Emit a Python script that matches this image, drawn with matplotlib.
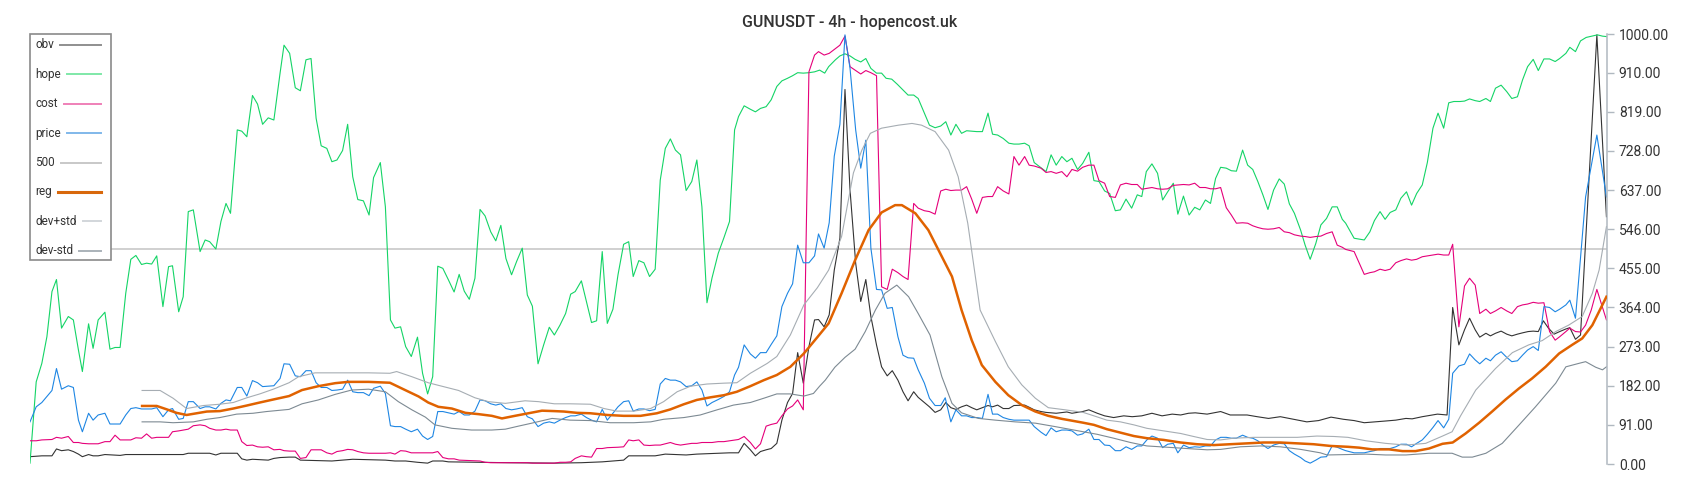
import matplotlib
matplotlib.use("Agg")
import matplotlib.pyplot as plt
from matplotlib.patches import Rectangle
from matplotlib.lines import Line2D

plt.rcParams['font.family'] = ['Roboto', 'DejaVu Sans']

# ---- data (bar index -> value) ----
hope_x = [0, 1.1, 2.1, 3, 3.9, 4.7, 5.6, 6.8, 7.7, 8.6, 9.3, 10.4, 11.2, 12.1, 13.3, 14.2, 15.1, 16, 17, 17.9,
          18.8, 19.8, 20.7, 21.6, 22.5, 23.6, 24.6, 25.3, 26.4, 27.2, 28.1, 29, 30.2, 31.1, 31.9, 33, 33.9, 34.8,
          35.6, 36.8, 37.6, 38.5, 39.5, 40.4, 41.3, 42.3, 43.3, 44.4, 45.1,
          46.1, 47.1, 48, 49, 49.9, 50.8, 51.7, 52.7, 53.6, 54.5, 55.5, 56.4, 57.3, 58.2, 59.2, 60.2, 61, 62.2,
          63.1, 64, 64.8, 65.8, 66.7, 67.7, 68.8, 69.7, 70.6, 71.5, 72.4, 73.3, 74.3, 75.3, 76.2, 77.1, 78, 79,
          79.9, 80.8, 81.8, 82.7, 83.6, 84.5, 85.5, 86.4, 87.4, 88.3, 89.2, 90.2, 91.2, 92.2,
          93.1, 94.1, 95.1, 96, 96.8, 97.9, 98.8, 99.7, 100.6, 101.6, 102.5, 103.5, 104.4, 105.4, 106.3, 107.1,
          108.1, 109, 110, 111, 111.9, 112.8, 113.7, 114.6, 115.5, 116.5, 117.5, 118.4, 119.3, 120.2, 121.1,
          122.2, 123.2, 124.2, 125.1, 125.8, 126.8, 127.9, 128.8, 129.7, 130.7, 131.6, 132.6, 133.5, 134.5,
          135.4, 136.3, 137.3, 138.3, 139.3,
          140.2, 141.1, 141.8, 143, 143.8, 144.7, 145.6, 146.5, 147.5, 148.4, 149.3, 150.3, 151.2, 152, 153, 154,
          154.9, 155.9, 156.9, 157.7, 158.8, 159.7, 160.7, 161.7, 162.6, 163.5, 164.4, 165.4, 166.3, 167.2, 168.1,
          169.1, 170.1, 170.9, 171.8, 172.8, 173.8, 174.7, 175.6, 176.6, 177.4, 178.3, 179.5, 180.4, 181.3, 182.2,
          183.2, 184.1, 185, 186,
          186.9, 188, 188.9, 189.8, 190.8, 191.7, 192.7, 193.6, 194.6, 195.6, 196.6, 197.4, 198.2, 199.2, 200.2,
          201.1, 202, 203, 203.8, 204.8, 205.8, 206.8, 207.7, 208.7, 209.6, 210.5, 211.4, 212.4, 213.3, 214.2,
          215.3, 216.2, 217.1, 218, 218.9, 219.8, 220.8, 221.8, 222.7, 223.6, 224.5, 225.6, 226.4, 227.3, 228.3,
          229.2, 230.2, 231.2, 232.1, 233,
          233.6, 235.1, 236.9, 237.9, 238.7, 239.7, 240.6, 241.5, 242.5, 243.4, 244.4, 245.3, 246.2, 247.2, 248.1,
          249.1, 250, 251, 251.9, 252.8, 253.9, 254.7, 255.6, 256.6, 257.4, 258.5, 259.3, 260.2, 261.2, 262.2,
          263.1, 264.1, 265, 265.9, 266.9, 267.8, 268.8, 269.8, 270.8, 271.6, 272.7, 273.4, 274.4, 275.3, 276.3,
          277.3, 278.3, 279.2, 279.9]
hope_y = [2, 191, 234, 296, 401, 429, 316, 343, 335, 265, 215, 326, 269, 335, 353, 267, 271, 271, 397, 476,
          485, 464, 467, 465, 484, 366, 459, 461, 354, 389, 587, 591, 494, 521, 517, 500, 564, 606,
          583, 777, 774, 761, 857, 837, 790, 805, 800, 909, 974,
          955, 875, 868, 940, 943, 804, 740, 734, 703, 707, 729, 790, 668, 615, 612, 579, 666, 701,
          598, 335, 316, 319, 273, 250, 295, 211, 163, 203, 460, 455, 428, 400, 441, 402, 383, 432,
          592, 577, 540, 519, 555, 478, 440, 471, 502, 393, 367, 233, 277, 318,
          300, 323, 350, 395, 401, 426, 378, 329, 333, 494, 327, 360, 440, 511, 517, 436,
          473, 468, 436, 453, 660, 734, 756, 730, 719, 636, 657, 707, 598, 375, 433,
          490, 526, 564, 777, 808, 833, 825, 819, 827, 831, 847, 878, 891, 897,
          903, 910, 909, 910, 912,
          916, 909, 924, 940, 949, 954, 949, 941, 935, 943, 920, 909, 909, 897, 895, 883,
          871, 858, 858, 850, 816, 788, 782, 786, 796, 765, 790, 769, 775, 774, 773,
          773, 816, 767, 765, 757, 746, 744, 744, 746, 740, 701, 689, 680, 719, 695,
          715, 703, 711, 685,
          699, 725, 659, 657, 635, 629, 589, 591, 616, 595, 626, 622, 680, 698, 676,
          614, 633, 653, 581, 623, 579, 597, 591, 614, 606, 664, 690, 688, 682, 681,
          730, 695, 685, 657, 626, 592, 637, 663, 651, 605, 583, 544, 509, 476, 513,
          556, 571, 598, 598, 569,
          560, 525, 521, 540, 566, 587, 569, 585, 591, 618, 633, 602, 629, 649, 701,
          781, 816, 781, 840, 843, 843, 844, 849, 845, 843, 850, 843, 874, 881, 866,
          850, 854, 893, 924, 941, 915, 942, 942, 936, 943, 955, 969, 959, 984, 992,
          995, 998, 995, 994]

price_x = [0, 1.1, 2.1, 3, 3.9, 4.7, 5.6, 6.8, 7.7, 8.6, 9.3, 10.4, 11.2, 12.1, 13.3, 14.2, 16, 17, 17.9, 18.8,
           19.8, 21.6, 22.5, 23.6, 24.6, 25.3, 26.4, 27.2, 28.1, 29, 30.2, 31.1, 31.9, 33, 33.9, 34.8, 35.6, 36.8,
           37.6, 38.5, 39.5, 40.4, 41.3, 42.3, 43.3, 44.4, 45.1,
           46.1, 47.1, 48, 49, 49.9, 50.8, 51.7, 52.7, 53.6, 54.5, 55.5, 56.4, 57.3, 58.2, 59.2, 60.2, 61, 62.2,
           63.1, 64, 64.8, 65.8, 66.7, 67.7, 68.8, 69.7, 70.6, 71.5, 72.4, 73.3, 74.3, 75.3, 76.2, 77.1, 78, 79,
           79.9, 80.8, 81.8, 82.7, 83.6, 84.5, 85.5, 86.4, 87.4, 88.3, 89.2, 90.2, 91.2, 92.2,
           93.1, 94.1, 95.1, 96, 96.8, 97.9, 98.8, 99.7, 100.6, 101.6, 102.5, 103.5, 104.4, 105.4, 106.3, 107.1,
           108.1, 109, 110, 111, 111.9, 112.8, 113.7, 114.6, 115.5, 116.5, 117.5, 118.4, 119.3, 120.2, 121.1,
           122.2, 123.2, 124.2, 125.1, 125.8, 126.8, 127.9, 128.8, 129.7, 130.7, 131.6, 132.6, 133.5, 134.5,
           135.4, 136.3, 137.3, 138.3, 139.3,
           140, 141, 141.9, 142.8, 143.8, 144.7, 145.6, 146.6, 147.5, 148.4, 149.3, 150.3, 151.2, 152.2, 153.1,
           154.1, 155, 155.9, 156.9, 157.7, 158.8, 159.7, 160.7, 161.7, 162.5, 163.5, 164.4, 165.4, 166.3, 167.2,
           168.1, 169.1, 170.1, 170.9, 171.8, 172.8, 173.8, 174.7, 175.6, 176.6, 177.4, 178.3, 179.5, 180.4,
           181.3, 182.2, 183.2, 184.1, 185, 186,
           186.9, 188, 188.9, 189.8, 190.8, 191.7, 192.7, 193.6, 194.6, 195.6, 196.6, 197.4, 198.3, 199.2, 200.2,
           201.1, 202, 203, 203.8, 204.8, 205.8, 206.8, 207.7, 208.7, 209.6, 210.5, 211.4, 212.4, 213.3, 214.2,
           215.3, 216.2, 217.1, 218, 218.9, 219.8, 220.8, 221.8, 222.7, 223.6, 224.5, 225.6, 226.4, 227.3, 228.3,
           229.2, 230.2, 231.2, 232.1, 233,
           233.6, 235.1, 236.9, 237.9, 238.7, 239.7, 240.6, 241.5, 242.5, 243.4, 244.4, 245.3, 246.2, 247.2, 248.1,
           249.1, 250, 251, 251.9, 252.6, 253.7, 254.7, 255.6, 256.6, 257.4, 258.5, 259.3, 260.2, 261.2, 262.2,
           263.1, 264.1, 265, 265.9, 266.9, 267.8, 268.8, 269.8, 270.8, 271.6, 272.7, 273.4, 274.4, 276.2, 278.2,
           279.9]
price_y = [98, 133, 143, 157, 171, 222, 174, 182, 178, 102, 75, 118, 102, 114, 118, 93, 93, 114, 129, 131,
           128, 128, 131, 110, 126, 129, 104, 106, 145, 145, 129, 133, 133, 128, 141, 149, 147, 178,
           178, 158, 194, 189, 180, 181, 182, 199, 233,
           232, 205, 203, 217, 217, 189, 178, 178, 171, 172, 174, 195, 168, 166, 166, 159, 176, 181,
           164, 89, 87, 87, 81, 75, 81, 65, 57, 64, 122, 122, 119, 116, 122, 114, 114, 123,
           149, 147, 140, 137, 140, 129, 126, 128, 131, 110, 105, 87, 95, 98,
           95, 102, 108, 112, 112, 116, 108, 102, 98, 127, 102, 118, 133, 145, 147, 123,
           128, 128, 124, 127, 186, 199, 195, 195, 191, 180, 182, 191, 172, 135, 143,
           150, 157, 168, 207, 225, 277, 256, 246, 259, 259, 278, 298, 366, 397,
           419, 509, 468, 468, 484,
           535, 502, 561, 716, 790, 998, 920, 777, 688, 753, 502, 406, 405, 362, 364,
           296, 253, 247, 246, 219, 188, 153, 136, 136, 154, 98, 126, 112, 112, 108,
           108, 106, 162, 116, 116, 108, 104, 102, 102, 102, 102, 87, 74, 66,
           84, 75, 79, 79, 77, 67,
           70, 81, 57, 57, 44, 43, 31, 31, 40, 34, 42, 42, 56, 65, 60,
           38, 46, 48, 26, 44, 38, 40, 39, 42, 42, 56, 62, 62, 60, 60,
           67, 62, 60, 54, 44, 36, 44, 48, 47, 31, 23, 15, 7, 2, 9,
           16, 17, 42, 39, 34,
           31, 26, 26, 29, 31, 36, 36, 36, 40, 46, 46, 40, 48, 56, 69,
           85, 101, 84, 104, 211, 228, 232, 256, 242, 233, 246, 240, 253, 261, 248,
           238, 240, 253, 265, 273, 264, 366, 364, 354, 360, 370, 381, 339, 621, 765,
           621]

cost_x = [0, 1.1, 2.1, 3.9, 4.7, 5.6, 6.8, 7.7, 8.6, 9.3, 10.4, 12.1, 13.3, 14.2, 15.1, 16, 17.9, 18.8, 19.8,
          20.7, 21.6, 22.5, 24.6, 25.3, 26.4, 27.2, 28.1, 29, 30.2, 31.1, 31.9, 33, 33.9, 34.8, 35.6, 36.8, 37.6,
          38.5, 39.5, 40.4, 41.3, 42.3, 43.3, 44.4, 45.1,
          46.1, 47.1, 48, 49, 49.9, 51.7, 52.7, 53.6, 54.5, 55.5, 56.4, 57.3, 58.2, 59.2, 60.2, 63.1, 64, 64.8,
          65.8, 66.7, 67.7, 71.5, 72.4, 73.3, 74.3, 75.3, 76.2, 78, 79.9, 80.8, 81.8, 88.3, 89.2, 93.1,
          94.1, 95.1, 96, 96.8, 97.9, 98.8, 99.7, 100.6, 101.6, 102.5, 104.4, 105.4, 106.3, 107.1, 108.1, 109,
          110, 111, 111.9, 112.8, 113.7, 114.6, 115.5, 116.5, 117.5, 118.4, 119.3, 121.1, 122.2, 123.2, 124.2,
          125.1, 125.8, 126.8, 127.9, 128.8, 129.7, 130.7, 131.6, 132.6, 133.5, 134.5, 135.4, 136.3, 137.3,
          138.3, 139.3,
          140, 141, 141.9, 142.8, 143.8, 144.7, 145.6, 146.6, 147.5, 148.4, 149.3, 150.3, 151.2, 152.2, 153.1,
          154.1, 155, 155.9, 156.9, 157.7, 158.8, 159.7, 160.7, 161.7, 162.6, 163.5, 164.4, 165.4, 166.3, 167.2,
          168.1, 169.1, 170.1, 170.9, 171.8, 172.8, 173.8, 174.7, 175.6, 176.6, 177.4, 178.3, 179.5, 180.4,
          181.3, 182.2, 183.2, 184.1, 185, 186,
          186.9, 188, 188.9, 189.8, 190.8, 191.7, 192.7, 193.6, 194.6, 195.6, 196.6, 197.4, 198.3, 199.2, 200.2,
          201.1, 202, 203, 203.8, 204.8, 205.8, 206.8, 207.7, 208.7, 209.6, 210.5, 211.4, 212.4, 213.3, 214.2,
          215.3, 216.2, 217.1, 218, 218.9, 219.8, 220.8, 221.8, 222.7, 223.6, 224.5, 225.6, 226.4, 227.3, 228.3,
          229.2, 230.2, 231.2, 232.1, 233,
          233.6, 235.1, 236.9, 237.9, 238.7, 239.7, 240.6, 241.5, 242.5, 243.4, 244.4, 245.3, 246.2, 247.2, 248.1,
          249.1, 250, 251, 251.9, 252.6, 253.7, 254.7, 255.6, 256.6, 257.4, 258.5, 259.3, 260.2, 261.2, 262.2,
          263.1, 264.1, 265, 265.9, 266.9, 267.8, 268.8, 269.8, 270.8, 271.6, 272.7, 273.4, 274.4, 275.3, 276.2,
          277.2, 278.2, 279.9]
cost_y = [54, 54, 56, 57, 62, 60, 64, 50, 50, 48, 47, 47, 52, 52, 67, 56, 56, 61, 60,
          70, 60, 62, 62, 75, 77, 79, 81, 89, 91, 89, 83, 79, 79, 81, 79, 79, 52,
          43, 44, 40, 39, 40, 33, 34, 31,
          30, 30, 13, 15, 33, 33, 26, 23, 29, 31, 34, 33, 29, 26, 25, 25, 26, 23,
          31, 30, 26, 26, 29, 15, 12, 12, 9, 8, 7, 4, 3, 3, 2, 2,
          4, 4, 5, 13, 19, 17, 16, 36, 36, 38, 39, 40, 56, 54, 56, 44,
          43, 44, 44, 47, 50, 46, 44, 46, 48, 48, 50, 50, 52, 52, 54,
          56, 57, 64, 50, 35, 47, 88, 92, 95, 112, 128, 135, 149, 126,
          912, 951,
          959, 951, 955, 964, 974, 995, 924, 915, 907, 915, 910, 903, 412, 406, 453,
          445, 436, 429, 606, 595, 589, 587, 581, 635, 639, 636, 637, 637, 645, 616,
          583, 620, 622, 622, 645, 635, 628, 715, 695, 715, 695, 693, 688, 678,
          680, 676, 680, 668, 685, 681,
          690, 695, 695, 659, 653, 622, 620, 649, 653, 650, 650, 639, 641, 643, 640,
          639, 640, 648, 649, 650, 649, 653, 643, 643, 640, 640, 643, 596, 579, 560,
          561, 560, 554, 550, 547, 546, 547, 550, 540, 538, 533, 530, 529, 527, 529,
          530, 536, 540, 509, 504,
          499, 494, 441, 445, 447, 453, 450, 453, 468, 473, 477, 474, 476, 482, 484,
          486, 488, 486, 486, 511, 319, 414, 432, 416, 350, 360, 350, 356, 364, 356,
          350, 366, 370, 372, 376, 374, 375, 308, 288, 296, 308, 316, 308, 307, 323,
          358, 406, 335]

obv_x = [0, 2.1, 3.9, 4.7, 5.6, 6.8, 7.7, 8.6, 9.3, 10.4, 11.2, 12.1, 13.3, 16, 17, 27.2, 28.1, 31.9, 33,
         33.9, 36.8, 37.6, 38.5, 39.5, 42.3, 43.3, 44.4, 46,
         47.1, 48, 53.6, 57.3, 63.1, 64.8, 66.7, 68.8, 70.6, 71.5, 73.3, 74.3, 79.9, 85, 93,
         97.9, 101.6, 104.4, 105.4, 106.3, 111, 112.8, 116.5, 118.4, 122.2, 124.2, 125.8, 126.8, 127.9, 128.8,
         129.7, 130.7, 131.6, 132.6, 133.5, 134.5, 135.4, 136.3, 137.3, 138.3, 139.3,
         140, 141, 141.9, 142.8, 143.8, 144.7, 145.6, 146.6, 147.5, 148.4, 149.3, 150.3, 151.2, 152.2, 153.1,
         154.1, 155, 155.9, 156.9, 157.7, 158.8, 159.7, 160.7, 161.7, 162.6, 163.5, 164.4, 165.4, 166.3, 167.2,
         168.1, 169.1, 170.1, 170.9, 171.8, 172.8, 173.8, 174.7, 176.6, 177.4, 178.3, 179.5, 180.4, 182.2,
         184.1, 185, 186.9,
         188, 189.5, 190.8, 192.4, 194.2, 195.7, 197.4, 199.2, 201, 202.8, 204.3, 205.7, 206.9, 209, 211.4,
         213.1, 216.1, 217.9, 219.9, 222, 224.4, 226.7, 228.8, 231, 233.2,
         235.1, 236.9, 238.9, 240.7, 242.5, 244.3, 245.4, 247.2, 249, 249.9, 251.6, 252.6, 253.7, 254.7, 255.6,
         256.6, 257.4, 258.5, 259.3, 260.2, 261.2, 262.2, 263.1, 264.1, 265, 266, 266.9, 267.8, 268.7, 269.6,
         270.6, 271.6, 272.7, 273.4, 274.4, 275.3, 278.2, 279.9]
obv_y = [17, 19, 19, 35, 31, 33, 29, 23, 17, 22, 19, 19, 22, 20, 22, 22, 25, 25, 21,
         25, 25, 12, 9, 11, 9, 13, 15, 16,
         16, 9, 7, 11, 9, 7, 7, 4, 2, 7, 7, 5, 4, 3, 2,
         3, 5, 8, 9, 19, 19, 23, 21, 23, 25, 26, 26, 48, 33, 19,
         29, 33, 36, 48, 102, 143, 164, 259, 188, 273, 335,
         336, 319, 347, 451, 525, 871, 637, 467, 378, 429, 343, 277, 226, 205, 217,
         195, 168, 147, 168, 155, 143, 133, 120, 126, 143, 131, 127, 133, 137, 131,
         126, 131, 136, 133, 137, 129, 129, 136, 137, 132, 126, 122, 120, 118,
         121, 118, 122,
         126, 118, 112, 108, 112, 110, 112, 118, 112, 116, 114, 118, 119, 116, 122,
         114, 114, 110, 106, 110, 104, 98, 101, 109, 104,
         101, 96, 98, 100, 102, 106, 105, 110, 114, 116, 114, 364, 277, 312, 339,
         312, 295, 304, 298, 304, 309, 302, 298, 302, 305, 308, 309, 308, 333, 316,
         302, 308, 314, 317, 290, 300, 998, 575]

reg_x = [19.9, 22.5, 24.3, 26, 27.8, 29.6, 31.4, 33.7, 36.1, 38.5, 40.8, 43.2, 46, 48.3, 51.2, 54.2, 56.5, 60.1,
         63.9, 66.6, 69, 70.7, 72.5, 74.9, 77.3, 79.6, 82, 83.8, 86.1, 88.5, 90.9, 93.1, 94.8, 97.1, 99.5,
         102.5, 105.4, 108.4, 111.3, 113.7, 116.1, 118.4, 120.8, 123.2, 125.5, 127.9, 130.3, 132.6, 135, 137.4,
         139.8, 141.8, 144.1, 146.5, 148.9, 151.2, 153.6, 154.8, 157.2, 159.5, 161.6, 163.7, 165.4, 167.2, 169,
         171.4, 173.7, 176.1, 178.5, 180.8, 183.2, 187, 188.9, 191.2, 193.6, 196, 198.3, 201.3, 204.3, 207.2,
         210.2, 213.1, 216.1, 219, 222, 225, 227.9, 230.9, 234, 236, 238.3, 241.3, 243.7, 246, 248.4, 250.8,
         252.6, 254.9, 257.3, 259.6, 262, 264.4, 266.7, 269.1, 271.5, 273.8, 275.6, 277.4, 279.9]
reg_y = [135, 135, 127, 119, 114, 118, 122, 123, 129, 136, 143, 150, 158, 172, 181, 188, 191, 191,
         189, 172, 157, 143, 133, 129, 119, 116, 112, 106, 112, 118, 124, 123, 122, 119, 118,
         114, 112, 112, 118, 127, 139, 149, 155, 160, 168, 181, 195, 207, 226, 257,
         295, 327, 397, 474, 544, 585, 602, 602, 583, 544, 490, 436, 358, 288, 230,
         191, 160, 137, 122, 112, 105, 96, 91, 81, 73, 65, 60, 56, 50, 46,
         44, 46, 48, 50, 50, 48, 46, 42, 40, 38, 34, 34, 30, 30, 36, 47,
         50, 71, 96, 122, 150, 176, 199, 226, 257, 277, 292, 323, 389]

dev_hi_x = [19.9, 23.1, 25.4, 27.8, 30.8, 33.7, 36.1, 38.5, 40.8, 43.2, 46, 47.7, 50.6, 54.2, 60.1, 63.9, 65.1,
            67.8, 70.7, 73.1, 76.1, 79, 81.4, 84.4, 87.9, 90.3, 93.1, 95.9, 99.5, 101.9, 104.2, 107.2, 110.2,
            112.5, 114.9, 117.3, 120.2, 123.2, 125.5, 127.9, 130.9, 132.6, 135, 137.4, 139.8, 141.8, 144.1,
            146.2, 147.7, 149.2, 151.2, 154.2, 156.6, 158.3, 160.7, 163.1, 164.8, 166.5, 168.7, 171.4, 173.7,
            176.1, 178.5, 180.8, 183.8, 187, 188.9, 191.2, 193.6, 196, 198.3, 201.3, 204.3, 206.6, 209, 211.4,
            213.7, 217.3, 225, 228.5, 231.5, 234, 237.2, 240.7, 244.3, 247.8, 250.8, 252.5, 254, 256.7, 260.2,
            263.2, 266.1, 268.5, 270.9, 273.2, 275.6, 277.4, 278.6, 279.9]
dev_hi_y = [171, 171, 153, 129, 136, 139, 143, 154, 163, 174, 189, 203, 212, 212, 212, 211, 215,
            203, 189, 181, 171, 154, 145, 141, 147, 145, 140, 140, 139, 129, 123, 123, 129,
            145, 168, 181, 186, 188, 189, 211, 234, 250, 300, 370, 410, 451, 529,
            677, 730, 769, 781, 788, 792, 788, 773, 730, 668, 560, 358, 285, 226,
            184, 153, 131, 126, 120, 112, 102, 98, 91, 83, 77, 71, 64, 57, 56,
            60, 62, 62, 65, 64, 62, 54, 48, 44, 48, 65, 75, 112, 172, 222,
            259, 277, 287, 308, 323, 343, 397, 451, 552]

dev_lo_x = [19.9, 23.1, 25.4, 29, 31.4, 33.7, 36.7, 39.6, 42, 46, 48.3, 51.2, 54.2, 57.1, 60.1, 63.1, 65.4, 67.8,
            70.2, 71.9, 74.9, 78.4, 82, 84.4, 86.7, 89.1, 92.7, 95.9, 99.5, 103, 107.2, 110.2, 112.5, 116.1, 119,
            122, 124.9, 127.9, 130.3, 132.6, 135, 137.4, 139.1, 140.2, 141.2, 142.9, 144.7, 146.5, 148.3, 150.1,
            151.8, 153.9, 156, 157.7, 159.8, 161.9, 163.7, 165.4, 168.4, 171.4, 174.9, 178.5, 182, 187, 189.5,
            192.4, 195.4, 198.3, 201.9, 205.4, 209, 211.4, 214.9, 218.5, 222, 225.6, 229.1, 230.3, 234, 237.2,
            240.7, 244.3, 248.4, 252.5, 254.3, 256.1, 258.5, 261.4, 264.4, 267.3, 270.9, 272.7, 275, 276.2, 278,
            279.2, 279.9]
dev_lo_y = [98, 98, 96, 98, 104, 108, 116, 118, 122, 127, 140, 149, 162, 172, 174, 168, 145, 126,
            109, 91, 83, 79, 79, 81, 88, 95, 106, 102, 101, 96, 96, 98, 104, 108, 114,
            126, 137, 143, 153, 163, 163, 158, 164, 181, 195, 225, 248, 267, 308, 358,
            397, 416, 389, 350, 300, 203, 141, 119, 106, 102, 98, 95, 87, 75, 69,
            60, 50, 42, 39, 36, 33, 34, 40, 42, 40, 34, 26, 21, 22, 23,
            21, 21, 25, 25, 16, 16, 25, 48, 91, 133, 188, 226, 234, 238, 225,
            219, 226]

level_500 = 500
y_ticks = [0, 91, 182, 273, 364, 455, 546, 637, 728, 819, 910, 1000]

series = [
    # name, x, y, line colour, legend colour, width
    ('obv', obv_x, obv_y, '#333333', '#8f8f8f', 0.8),
    ('hope', hope_x, hope_y, '#14d466', '#7fe8a8', 0.8),
    ('cost', cost_x, cost_y, '#e5007a', '#ef80b8', 0.8),
    ('price', price_x, price_y, '#1e86e3', '#80b8ea', 0.8),
    ('500', None, None, '#c4c4c4', '#c8c8c8', 1.1),
    ('reg', reg_x, reg_y, '#e06200', '#d8680c', 1.8),
    ('dev+std', dev_hi_x, dev_hi_y, '#a6adb3', '#d2d6da', 0.8),
    ('dev-std', dev_lo_x, dev_lo_y, '#7d8a93', '#aab2b9', 0.8),
]

W, H = 1700, 500
fig = plt.figure(figsize=(W / 100, H / 100), dpi=100)
ax = fig.add_axes([30 / W, 36 / H, 1577 / W, 430 / H])

for name, xs, ys, col, lcol, lw in series:
    if name == '500':
        ax.axhline(level_500, color=col, lw=lw, zorder=1)
    else:
        ax.plot(xs, ys, color=col, lw=lw, zorder=3 if name == 'reg' else 2)

ax.set_xlim(0, 280)
ax.set_ylim(0, 1000)
ax.set_xticks([])
for s in ['top', 'left', 'bottom']:
    ax.spines[s].set_visible(False)
ax.spines['right'].set_color('#b0b8c0')
ax.spines['right'].set_linewidth(1.1)
ax.yaxis.tick_right()
ax.set_yticks(y_ticks)
ax.set_yticklabels([f'{v:.2f}' for v in y_ticks])
ax.tick_params(axis='y', direction='out', length=5, width=1, color='#b0b8c0',
               labelsize=10, labelcolor='#333333', pad=3.5)

fig.text(0.5, 1 - 27 / H, 'GUNUSDT - 4h - hopencost.uk', ha='center', va='baseline',
         fontsize=11.5, color='#333333', fontweight='medium')

# legend box, drawn by hand (text left, swatch filling to the right edge)
box = Rectangle((30 / W, 1 - 260 / H), 81 / W, 226 / H, transform=fig.transFigure,
                facecolor='white', edgecolor='#8a8a8a', lw=1.2, zorder=5)
fig.patches.append(box)
texts = []
for k, (name, xs, ys, col, lcol, lw) in enumerate(series):
    yy = 1 - (45 + k * 29.4) / H
    t = fig.text(35 / W, yy, name, ha='left', va='center', fontsize=8.5, color='#333333', zorder=6)
    texts.append((t, yy, lcol, name))
fig.canvas.draw()
r = fig.canvas.get_renderer()
for t, yy, lcol, name in texts:
    bb = t.get_window_extent(r)
    x0 = (bb.x1 + 6) / W
    ln = Line2D([x0, 101 / W], [yy, yy], transform=fig.transFigure, color=lcol,
                lw=2.2 if name == 'reg' else 1.4, zorder=6)
    fig.lines.append(ln)

fig.savefig('out.png', dpi=100)
